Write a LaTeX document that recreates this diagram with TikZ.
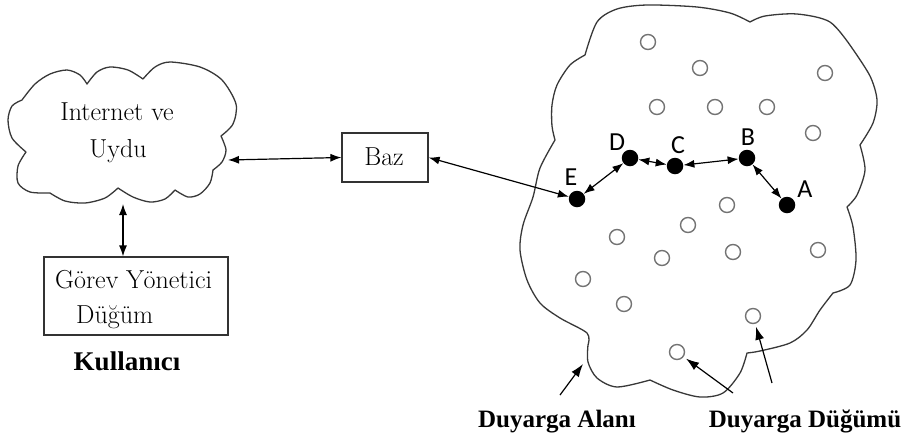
\documentclass[tikz,border=0pt]{standalone}
\usepackage{fontspec}
\usetikzlibrary{arrows.meta}
\newfontfamily\lblfont{Carlito}
\newfontfamily\capfont{Liberation Serif}

\tikzset{
  outline/.style={draw=black!78, line width=1.3pt, line join=round},
  sensor/.style={circle, draw=black!55, line width=1.4pt, minimum size=15pt, inner sep=0pt},
  active/.style={circle, fill=black, minimum size=16.5pt, inner sep=0pt},
  box/.style={draw=black!80, line width=1.2pt, inner sep=0pt},
  link/.style={line width=1.2pt, {Latex[length=11pt,width=8pt]}-{Latex[length=11pt,width=8pt]}},
  pointer/.style={line width=1.2pt, -{Latex[length=13pt,width=9pt]}},
  plain/.style={inner sep=0pt, anchor=base, font=\fontsize{26}{30}\selectfont},
  letter/.style={inner sep=0pt, font=\lblfont\fontsize{26}{30}\selectfont},
  caption/.style={inner sep=0pt, anchor=base, font=\capfont\bfseries\fontsize{25}{29}\selectfont}
}

\begin{document}
\begin{tikzpicture}[x=1pt, y=-1pt]
\useasboundingbox (0,0) rectangle (909,437);

% ---- Internet / satellite cloud ----
\draw[outline]
  plot[smooth] coordinates {(22,100) (35,84) (50,74) (67,70) (80,75) (87,84)}
  -- plot[smooth] coordinates {(87,84) (97,72) (110,67) (128,70) (143,79)}
  -- plot[smooth] coordinates {(143,79) (155,67) (170,62) (200,67) (222,80) (236,104) (233,124) (221,136)}
  -- plot[smooth] coordinates {(221,136) (226,150) (222,162) (213,170)}
  -- plot[smooth] coordinates {(213,170) (210,183) (200,194) (188,197) (175,190)}
  -- plot[smooth] coordinates {(175,190) (165,199) (150,202) (133,197) (118,188)}
  -- plot[smooth] coordinates {(118,188) (105,198) (85,203) (65,201) (50,193)}
  -- plot[smooth] coordinates {(50,193) (30,192) (18,183) (18,166) (26,152)}
  -- plot[smooth] coordinates {(26,152) (12,138) (8,120) (12,106) (22,100)}
  -- cycle;
\node[plain] (net1) at (117,120) {Internet ve};
\node[plain] (net2) at (118,157) {Uydu};
\coordinate (cloudR) at (228,160);
\coordinate (cloudB) at (123,204);

% ---- base station ----
\node[box, minimum width=86pt, minimum height=49pt] (baz) at (385,157.5) {};
\node[plain] (baztxt) at (384,165) {Baz};

% ---- task manager node ----
\node[box, minimum width=184pt, minimum height=78pt] (gorev) at (136,296) {};
\node[plain, anchor=base west] (gorev1) at (55,288) {Görev Yönetici};
\node[plain, anchor=base west] (gorev2) at (76,323) {Düğüm};
\node[caption, font=\capfont\bfseries\fontsize{27}{31}\selectfont] (user) at (127,370) {Kullanıcı};

\draw[link] (cloudR) -- (baz.west);
\draw[link] (cloudB) -- (cloudB |- gorev.north);

% ---- sensor field ----
\draw[outline]
  plot[smooth] coordinates {(585,55) (597,22) (617,9) (647,5) (697,7) (730,13) (750,22)}
  -- plot[smooth] coordinates {(750,22) (765,16) (797,14) (830,22) (852,48)}
  -- plot[smooth] coordinates {(852,48) (870,76) (877,100) (873,123) (860,145)}
  -- plot[smooth] coordinates {(860,145) (865,170) (857,195) (847,207)}
  -- plot[smooth] coordinates {(847,207) (853,227) (856,260) (850,285) (833,293)}
  -- plot[smooth] coordinates {(833,293) (820,310) (807,330) (790,343) (760,351) (747,353)}
  -- plot[smooth] coordinates {(747,353) (740,373) (723,393) (700,397) (673,390) (650,380)}
  -- plot[smooth] coordinates {(650,380) (617,387) (597,378) (588,362) (588,345)}
  -- plot[smooth] coordinates {(588,345) (587,333) (560,318) (540,303) (527,280) (520,250) (523,225) (533,197) (540,168) (555,140)}
  -- plot[smooth] coordinates {(555,140) (552,126) (552,105) (557,85) (570,65) (585,55)}
  -- cycle;

% idle sensor nodes
\node[sensor] (s1)  at (648,42)  {};
\node[sensor] (s2)  at (700,68)  {};
\node[sensor] (s3)  at (825,73)  {};
\node[sensor] (s4)  at (657,107) {};
\node[sensor] (s5)  at (715,107) {};
\node[sensor] (s6)  at (767,107) {};
\node[sensor] (s7)  at (813,133) {};
\node[sensor] (s8)  at (727,205) {};
\node[sensor] (s9)  at (688,225) {};
\node[sensor] (s10) at (617,237) {};
\node[sensor] (s11) at (733,252) {};
\node[sensor] (s12) at (818,250) {};
\node[sensor] (s13) at (662,258) {};
\node[sensor] (s14) at (583,279) {};
\node[sensor] (s15) at (624,304) {};
\node[sensor] (s16) at (753,316) {};
\node[sensor] (s17) at (677,352) {};

% routing path
\node[active] (E) at (577,199) {};
\node[active] (D) at (630,158) {};
\node[active] (C) at (675,166) {};
\node[active] (B) at (747,158) {};
\node[active] (A) at (787,205) {};
\node[letter] (lE) at (571,177) {E};
\node[letter] (lD) at (617,142) {D};
\node[letter] (lC) at (678,145) {C};
\node[letter] (lB) at (748,137) {B};
\node[letter] (lA) at (805,189) {A};

\draw[link] (baz.east) -- (E);
\draw[link] (E) -- (D);
\draw[link] (D) -- (C);
\draw[link] (C) -- (B);
\draw[link] (B) -- (A);

% captions
\node[caption] (area) at (557,427) {Duyarga Alanı};
\node[caption] (sens) at (805,427) {Duyarga Düğümü};
\coordinate (areaTail) at (560,395);
\coordinate (areaEdge) at (583,364);
\coordinate (sensTail1) at (733,393);
\coordinate (sensTail2) at (772,383);
\draw[pointer] (areaTail) -- (areaEdge);
\draw[pointer, shorten >=3pt] (sensTail1) -- (s17);
\draw[pointer, shorten >=3pt] (sensTail2) -- (s16);
\end{tikzpicture}
\end{document}
